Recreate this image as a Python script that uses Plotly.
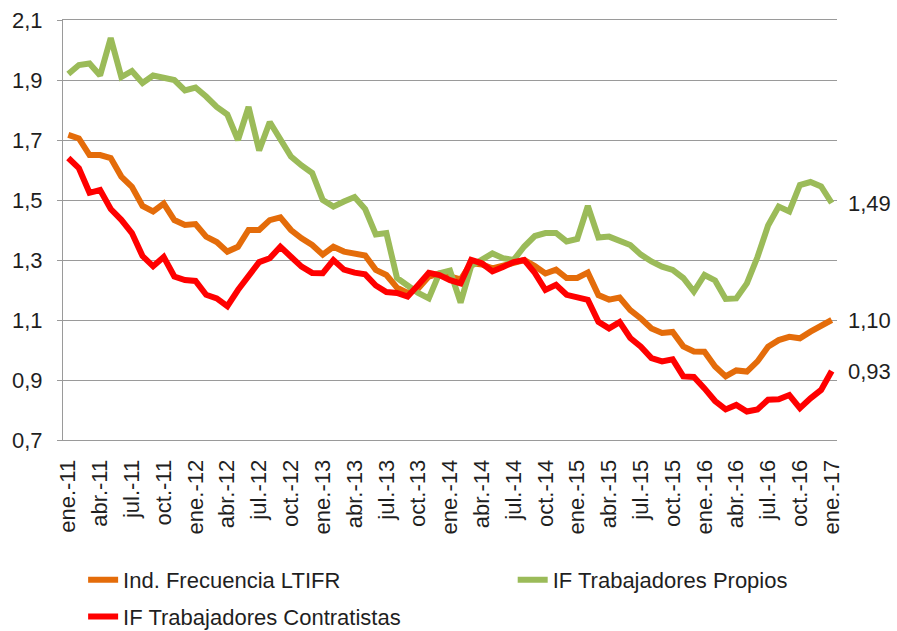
import plotly.graph_objects as go

# GET DATA
meses = ["ene.", "feb.", "mar.", "abr.", "may.", "jun.", "jul.", "ago.", "sep.", "oct.", "nov.", "dic."]
periodos = [f"{m}-{a}" for a in range(11, 18) for m in meses][:73]

ltifr = [1.717, 1.705, 1.65, 1.65, 1.64, 1.578, 1.544, 1.48, 1.462, 1.488, 1.433, 1.417,
         1.42, 1.378, 1.36, 1.328, 1.344, 1.40, 1.40, 1.433, 1.442, 1.40, 1.372, 1.35,
         1.318, 1.344, 1.328, 1.322, 1.315, 1.267, 1.25, 1.208, 1.19, 1.205, 1.245, 1.255,
         1.245, 1.235, 1.29, 1.285, 1.272, 1.28, 1.29, 1.30, 1.28, 1.255, 1.268, 1.24,
         1.24, 1.258, 1.183, 1.168, 1.175, 1.133, 1.105, 1.072, 1.057, 1.06, 1.012, 0.995,
         0.994, 0.945, 0.912, 0.932, 0.928, 0.962, 1.011, 1.033, 1.044, 1.039, 1.061, 1.08,
         1.10]

propios = [1.92, 1.95, 1.955, 1.915, 2.04, 1.91, 1.93, 1.89, 1.915, 1.91, 1.90, 1.865,
           1.875, 1.845, 1.81, 1.785, 1.70, 1.81, 1.665, 1.76, 1.705, 1.645, 1.615, 1.59,
           1.50, 1.478, 1.495, 1.51, 1.47, 1.385, 1.39, 1.24, 1.215, 1.19, 1.172, 1.256,
           1.265, 1.158, 1.28, 1.30, 1.322, 1.306, 1.30, 1.345, 1.38, 1.39, 1.39, 1.362,
           1.37, 1.48, 1.375, 1.378, 1.362, 1.35, 1.318, 1.295, 1.278, 1.267, 1.24, 1.195,
           1.25, 1.232, 1.17, 1.172, 1.222, 1.31, 1.415, 1.478, 1.462, 1.55, 1.56, 1.545,
           1.49]

contratistas = [1.64, 1.606, 1.524, 1.533, 1.47, 1.434, 1.39, 1.313, 1.279, 1.31, 1.245, 1.233,
                1.23, 1.184, 1.172, 1.146, 1.20, 1.244, 1.293, 1.306, 1.344, 1.311, 1.278, 1.257,
                1.256, 1.30, 1.268, 1.258, 1.252, 1.215, 1.193, 1.19, 1.178, 1.217, 1.257, 1.25,
                1.233, 1.222, 1.30, 1.289, 1.262, 1.277, 1.293, 1.30, 1.257, 1.20, 1.217, 1.184,
                1.175, 1.167, 1.094, 1.072, 1.093, 1.04, 1.011, 0.973, 0.962, 0.969, 0.912, 0.91,
                0.872, 0.83, 0.802, 0.817, 0.795, 0.802, 0.834, 0.836, 0.85, 0.806, 0.839, 0.867,
                0.93]

font = "Liberation Sans, Arial, sans-serif"
txt = "#1f1f1f"
gris = "#9a9a9a"
fs = 22

series = [
    ("Ind. Frecuencia LTIFR", ltifr, "#E46C0A", "legend"),
    ("IF Trabajadores Propios", propios, "#9BBB59", "legend2"),
    ("IF Trabajadores Contratistas", contratistas, "#FF0000", "legend3"),
]

fig = go.Figure()
for nombre, valores, color, leg in series:
    fig.add_trace(go.Scatter(x=periodos, y=valores, name=nombre, mode="lines",
                             line=dict(color=color, width=6), legend=leg))

# etiquetas del ultimo valor
for nombre, valores, color, leg in series:
    fig.add_annotation(x=periodos[-1], y=valores[-1], text=f"{valores[-1]:.2f}".replace(".", ","),
                       showarrow=False, xanchor="left", xshift=14,
                       font=dict(size=fs, color=txt, family=font))

leg_style = dict(orientation="h", xanchor="left", yanchor="middle",
                 font=dict(size=fs, color=txt), bgcolor="rgba(0,0,0,0)")

fig.update_layout(
    width=897, height=631,
    margin=dict(l=63, r=60, t=20, b=191, autoexpand=False),
    plot_bgcolor="white", paper_bgcolor="white",
    separators=",.",
    font=dict(family=font, size=fs, color=txt),
    showlegend=True,
    legend=dict(x=0.026, y=-0.333, **leg_style),
    legend2=dict(x=0.581, y=-0.333, **leg_style),
    legend3=dict(x=0.026, y=-0.421, **leg_style),
    xaxis=dict(type="category", range=[-0.5, 72.5], tickmode="array", tickvals=periodos[::3],
               tickangle=-90, ticks="", showgrid=False, showline=True, mirror=True,
               linecolor=gris, linewidth=1, tickfont=dict(size=fs, color=txt),
               ticklabelstandoff=10),
    xaxis2=dict(overlaying="x", anchor="y", range=[-0.5, 72.5], tick0=-0.5, dtick=3,
                ticks="outside", ticklen=6, tickcolor=gris, showticklabels=False,
                showgrid=False, zeroline=False, showline=False,
                minor=dict(tick0=-0.5, dtick=1, ticks="outside", ticklen=3, tickcolor=gris)),
    yaxis=dict(range=[0.7, 2.1], tick0=0.7, dtick=0.2, tickformat=".1f", showgrid=True,
               gridcolor=gris, gridwidth=1, zeroline=False, showline=True, linecolor=gris,
               ticks="outside", ticklen=5, tickcolor=gris, tickfont=dict(size=fs, color=txt),
               ticklabelstandoff=10, ticklabeloverflow="allow"),
)

fig.write_html("out.html", config={"displayModeBar": False},
               post_script="document.body.style.margin='0px';")
